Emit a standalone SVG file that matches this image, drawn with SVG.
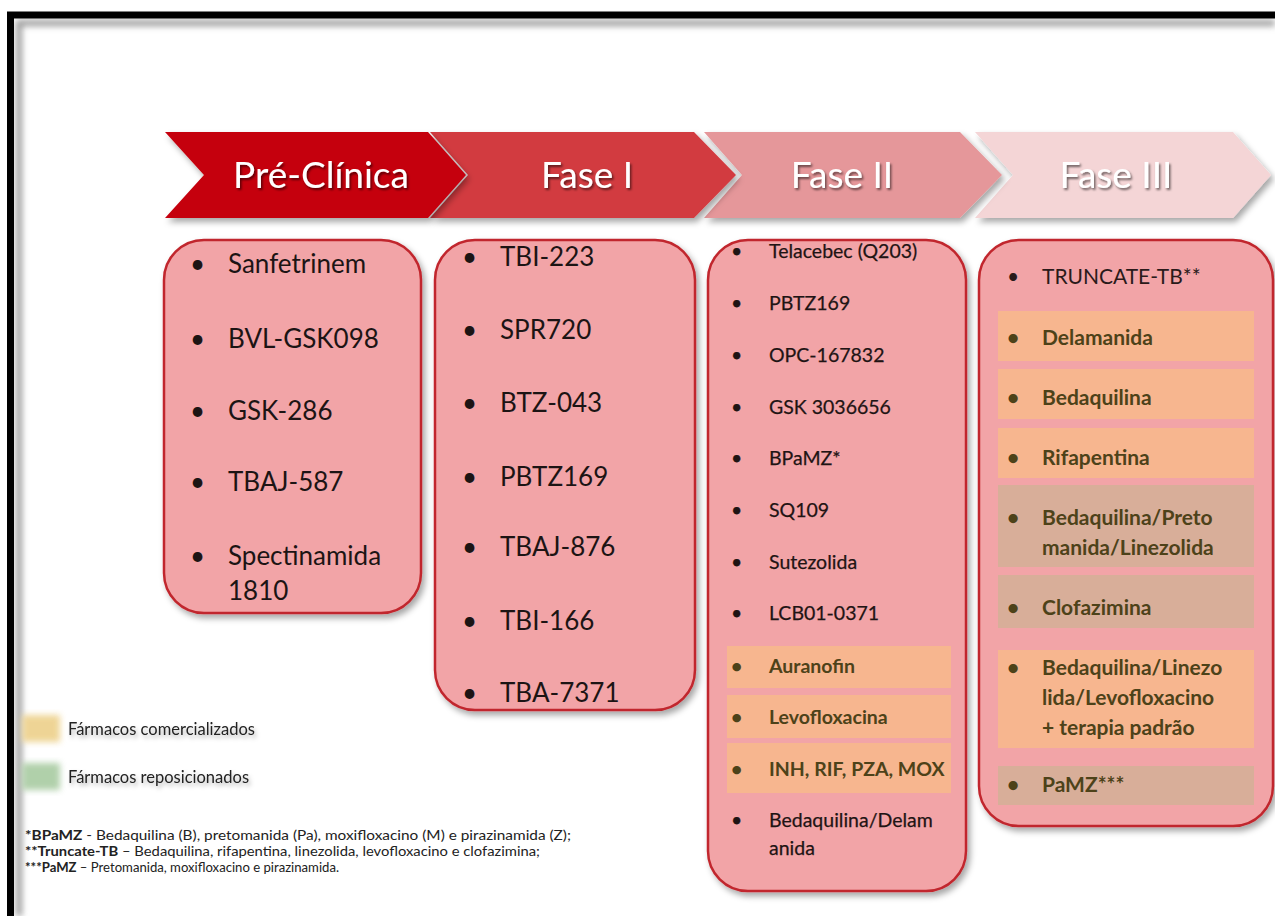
<svg xmlns="http://www.w3.org/2000/svg" width="1275" height="916" viewBox="0 0 1275 916">
<defs>
<filter id="sh" x="-10%" y="-10%" width="130%" height="130%"><feDropShadow dx="3" dy="4" stdDeviation="3" flood-color="#000" flood-opacity="0.35"/></filter>
<filter id="tsh" x="-10%" y="-20%" width="130%" height="150%"><feDropShadow dx="1.5" dy="2" stdDeviation="1" flood-color="#000" flood-opacity="0.55"/></filter>
<filter id="blur" x="-20%" y="-20%" width="140%" height="140%"><feGaussianBlur stdDeviation="3"/></filter>
<filter id="lsh" x="-10%" y="-30%" width="130%" height="170%"><feDropShadow dx="2" dy="3" stdDeviation="2" flood-color="#000" flood-opacity="0.3"/></filter>
</defs>
<style>
.title{font-family:Lato,"Liberation Sans",sans-serif;font-size:37px;fill:#fff;text-anchor:middle}
.box{fill:#F2A4A7;stroke:#C1272D;stroke-width:2.5}
.b1{font-family:Lato,"Liberation Sans",sans-serif;font-size:26px;fill:#1c1414}
.b3{font-family:Lato,"Liberation Sans",sans-serif;font-size:19.5px;fill:#1f1414;stroke:#1f1414;stroke-width:0.25}
.b4{font-family:Lato,"Liberation Sans",sans-serif;font-size:21px;fill:#2a1a1a}
.bd{font-weight:bold;fill:#4d4219;stroke:none}
.or{fill:#F7B68F}
.br{fill:#D8AE99}
.leg{font-family:Lato,"Liberation Sans",sans-serif;font-size:16.5px;fill:#222}
.fn{font-family:Lato,"Liberation Sans",sans-serif;font-size:12.5px;fill:#222}
</style>
<rect width="1275" height="916" fill="#fff"/>
<g id="frame">
<path d="M19 916 V23 H1275" fill="none" stroke="#9a9a9a" stroke-width="6" filter="url(#blur)"/>
<path d="M10.5 916 V15 H1275" fill="none" stroke="#000" stroke-width="7"/>
</g>
<g id="phase-fase3"><polygon points="975,132 1233,132 1271,175 1233,218 975,218 1013,175" fill="#F4D5D6" filter="url(#sh)"/><text class="title" x="1116" y="188" filter="url(#tsh)">Fase III</text></g>
<g id="phase-fase2"><polygon points="704,132 960,132 1002,175 960,218 704,218 742,175" fill="#E5979A" filter="url(#sh)"/><text class="title" x="842" y="188" filter="url(#tsh)">Fase II</text></g>
<g id="phase-fase1"><polygon points="430,132 694,132 736,175 694,218 430,218 468,175" fill="#D23B40" filter="url(#sh)"/><text class="title" x="587" y="188" filter="url(#tsh)">Fase I</text></g>
<g id="phase-preclinica"><polygon points="165,132 428,132 466,175 428,218 165,218 204,175" fill="#C5060F" filter="url(#sh)"/><text class="title" x="321" y="188" filter="url(#tsh)">Pré-Clínica</text></g>
<g id="connectors"/>
<g id="box-preclinica">
<rect class="box" x="164" y="240" width="257" height="373" rx="40" filter="url(#sh)"/>
<g class="b1">
<text x="190" y="273">•</text><text x="228" y="273">Sanfetrinem</text>
<text x="190" y="348">•</text><text x="228" y="348">BVL-GSK098</text>
<text x="190" y="420">•</text><text x="228" y="420">GSK-286</text>
<text x="190" y="491">•</text><text x="228" y="491">TBAJ-587</text>
<text x="190" y="565">•</text><text x="228" y="565">Spectinamida</text>
<text x="228" y="600">1810</text>
</g></g>
<g id="box-fase1">
<rect class="box" x="435" y="240" width="260" height="470" rx="40" filter="url(#sh)"/>
<g class="b1">
<text x="462" y="266">•</text><text x="500" y="266">TBI-223</text>
<text x="462" y="339">•</text><text x="500" y="339">SPR720</text>
<text x="462" y="412">•</text><text x="500" y="412">BTZ-043</text>
<text x="462" y="486">•</text><text x="500" y="486">PBTZ169</text>
<text x="462" y="556">•</text><text x="500" y="556">TBAJ-876</text>
<text x="462" y="630">•</text><text x="500" y="630">TBI-166</text>
<text x="462" y="702">•</text><text x="500" y="702">TBA-7371</text>
</g></g>
<g id="box-fase2">
<rect class="box" x="708" y="240" width="258" height="651" rx="40" filter="url(#sh)"/>
<rect class="or" x="727" y="646" width="224" height="42"/>
<rect class="or" x="727" y="695" width="224" height="43"/>
<rect class="or" x="727" y="743" width="224" height="50"/>
<g class="b3">
<text x="731" y="258">•</text><text x="769" y="258">Telacebec (Q203)</text>
<text x="731" y="310">•</text><text x="769" y="310">PBTZ169</text>
<text x="731" y="362">•</text><text x="769" y="362">OPC-167832</text>
<text x="731" y="414">•</text><text x="769" y="414">GSK 3036656</text>
<text x="731" y="465">•</text><text x="769" y="465">BPaMZ*</text>
<text x="731" y="517">•</text><text x="769" y="517">SQ109</text>
<text x="731" y="569">•</text><text x="769" y="569">Sutezolida</text>
<text x="731" y="620">•</text><text x="769" y="620">LCB01-0371</text>
<g class="bd">
<text x="731" y="673">•</text><text x="769" y="673">Auranofin</text>
<text x="731" y="724">•</text><text x="769" y="724">Levofloxacina</text>
<text x="731" y="776">•</text><text x="769" y="776">INH, RIF, PZA, MOX</text>
</g>
<text x="731" y="827">•</text><text x="769" y="827">Bedaquilina/Delam</text>
<text x="769" y="855">anida</text>
</g></g>
<g id="box-fase3">
<rect class="box" x="979" y="240" width="294" height="586" rx="40" filter="url(#sh)"/>
<rect class="or" x="998" y="311" width="256" height="50"/>
<rect class="or" x="998" y="369" width="256" height="50"/>
<rect class="or" x="998" y="428" width="256" height="50"/>
<rect class="br" x="998" y="485" width="256" height="82"/>
<rect class="br" x="998" y="575" width="256" height="53"/>
<rect class="or" x="998" y="650" width="256" height="98"/>
<rect class="br" x="998" y="766" width="256" height="39"/>
<g class="b4">
<text x="1007" y="284">•</text><text x="1042" y="284">TRUNCATE-TB**</text>
<g class="bd">
<text x="1007" y="345">•</text><text x="1042" y="345">Delamanida</text>
<text x="1007" y="405">•</text><text x="1042" y="405">Bedaquilina</text>
<text x="1007" y="465">•</text><text x="1042" y="465">Rifapentina</text>
<text x="1007" y="525">•</text><text x="1042" y="525">Bedaquilina/Preto</text>
<text x="1042" y="555">manida/Linezolida</text>
<text x="1007" y="615">•</text><text x="1042" y="615">Clofazimina</text>
<text x="1007" y="675">•</text><text x="1042" y="675">Bedaquilina/Linezo</text>
<text x="1042" y="705">lida/Levofloxacino</text>
<text x="1042" y="735">+ terapia padrão</text>
<text x="1007" y="792">•</text><text x="1042" y="792">PaMZ***</text>
</g></g></g>
<g id="legend">
<rect x="22" y="715" width="38" height="27" fill="#EDD08A" filter="url(#blur)" opacity="0.9"/>
<rect x="22" y="763" width="38" height="27" fill="#A8CBA1" filter="url(#blur)" opacity="0.9"/>
<text class="leg" x="68" y="735" filter="url(#lsh)">Fármacos comercializados</text>
<text class="leg" x="68" y="783" filter="url(#lsh)">Fármacos reposicionados</text>
</g>
<g id="footnotes" class="fn">
<text x="25" y="840" textLength="546" lengthAdjust="spacingAndGlyphs"><tspan font-weight="bold">*BPaMZ</tspan> - Bedaquilina (B), pretomanida (Pa), moxifloxacino (M) e pirazinamida (Z);</text>
<text x="25" y="856" textLength="515" lengthAdjust="spacingAndGlyphs"><tspan font-weight="bold">**Truncate-TB</tspan> – Bedaquilina, rifapentina, linezolida, levofloxacino e clofazimina;</text>
<text x="25" y="872" textLength="314" lengthAdjust="spacingAndGlyphs"><tspan font-weight="bold">***PaMZ</tspan> – Pretomanida, moxifloxacino e pirazinamida.</text>
</g>
</svg>
